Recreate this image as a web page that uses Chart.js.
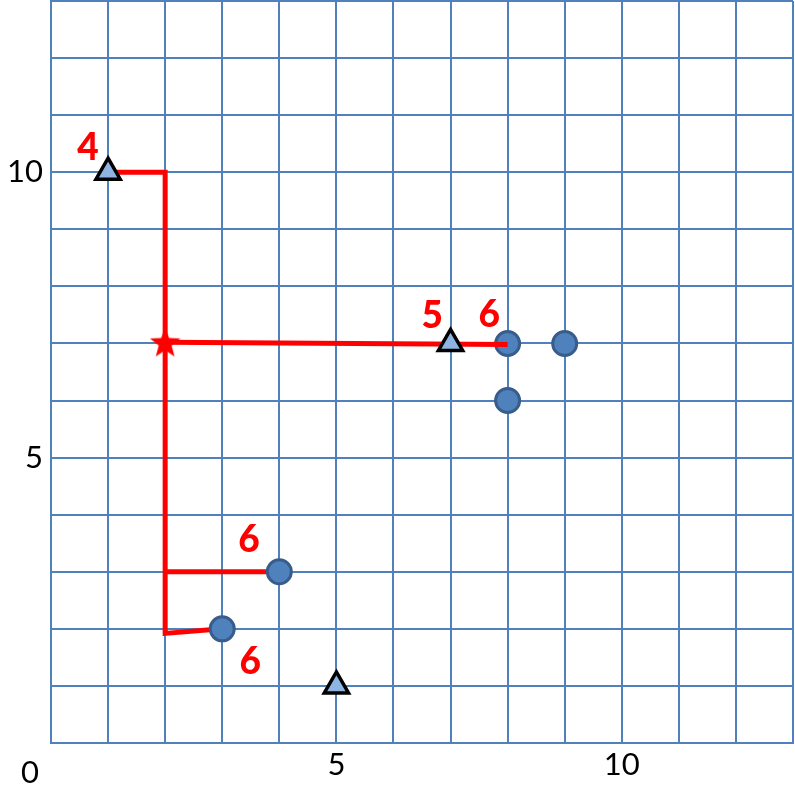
<!DOCTYPE html>
<html>
<head>
<meta charset="utf-8">
<script src="https://cdn.jsdelivr.net/npm/chart.js@4"></script>
<style>
  html, body { margin: 0; padding: 0; background: #fff; }
  #wrap { width: 795px; height: 789px; }
</style>
</head>
<body>
<div id="wrap"><canvas id="myChart"></canvas></div>
<script>
// axis range and tick labels
const xMax = 13;
const yMax = 13;
const xTickLabels = [5, 10];
const yTickLabels = [5, 10];
const originLabel = '0';

// markers
const triangles = [{x: 1, y: 10}, {x: 7, y: 7}, {x: 5, y: 1}];
const circles = [{x: 8, y: 7}, {x: 9, y: 7}, {x: 8, y: 6}, {x: 4, y: 3}, {x: 3, y: 2}];
const stars = [{x: 2, y: 7}];

// red paths
const path1 = [{x: 1, y: 10}, {x: 2, y: 10}, {x: 2, y: 1.92}, {x: 3, y: 2}];
const path2 = [{x: 2, y: 7.02}, {x: 8, y: 6.98}];
const path3 = [{x: 2, y: 3}, {x: 4, y: 3}];

// red number labels
const numLabels = [
  {x: 0.65, y: 10.42, text: '4'},
  {x: 6.68, y: 7.48, text: '5'},
  {x: 7.68, y: 7.5, text: '6'},
  {x: 3.47, y: 3.56, text: '6'},
  {x: 3.49, y: 1.42, text: '6'}
];

// star image for the point style
function makeStar(r) {
  const c = document.createElement('canvas');
  c.width = r * 2 + 2; c.height = r * 2 + 2;
  const g = c.getContext('2d');
  g.translate(r + 1, r + 1);
  g.beginPath();
  for (let i = 0; i < 10; i++) {
    const rad = i % 2 == 0 ? r : r * 0.42;
    const a = -Math.PI / 2 + i * Math.PI / 5;
    g.lineTo(Math.cos(a) * rad, Math.sin(a) * rad);
  }
  g.closePath();
  g.fillStyle = '#ff0000';
  g.fill();
  return c;
}

const textPlugin = {
  id: 'textPlugin',
  afterDraw(chart) {
    const ctx = chart.ctx;
    const xs = chart.scales.x, ys = chart.scales.y;
    ctx.save();
    ctx.fillStyle = '#000';
    ctx.font = '31px Lato, "Open Sans", sans-serif';
    ctx.textBaseline = 'middle';
    ctx.textAlign = 'center';
    xTickLabels.forEach(v => {
      ctx.fillText(String(v), xs.getPixelForValue(v), ys.bottom + 22);
    });
    ctx.fillText(originLabel, xs.left - 21, ys.bottom + 30);
    ctx.textAlign = 'right';
    yTickLabels.forEach(v => {
      ctx.fillText(String(v), xs.left - 8, ys.getPixelForValue(v));
    });
    ctx.fillStyle = '#ff0000';
    ctx.font = '900 37px Lato, "Open Sans", sans-serif';
    ctx.textAlign = 'center';
    numLabels.forEach(l => {
      ctx.fillText(l.text, xs.getPixelForValue(l.x), ys.getPixelForValue(l.y));
    });
    ctx.restore();
  }
};

const lineStyle = {
  type: 'line',
  borderColor: '#ff0000',
  borderWidth: 5,
  pointRadius: 0,
  fill: false,
  tension: 0
};

new Chart(document.getElementById('myChart'), {
  type: 'scatter',
  data: {
    datasets: [
      Object.assign({label: 'p2', data: path2, order: 2}, lineStyle),
      {
        label: 'stars', data: stars, order: 0,
        pointStyle: makeStar(16), pointRadius: 16
      },
      {
        label: 'triangles', data: triangles, order: 1,
        pointStyle: 'triangle', pointRadius: 14,
        backgroundColor: '#8db4e2', borderColor: '#000', borderWidth: 3.5
      },
      {
        label: 'circles', data: circles, order: 3,
        pointStyle: 'circle', pointRadius: 12,
        backgroundColor: '#4f81bd', borderColor: '#385d8a', borderWidth: 3
      },
      Object.assign({label: 'p1', data: path1, order: 4}, lineStyle),
      Object.assign({label: 'p3', data: path3, order: 4}, lineStyle)
    ]
  },
  options: {
    responsive: true,
    maintainAspectRatio: false,
    animation: false,
    layout: { autoPadding: false, padding: { left: 51, top: 1, right: 2, bottom: 46 } },
    plugins: {
      legend: { display: false },
      tooltip: { enabled: false }
    },
    scales: {
      x: {
        type: 'linear', min: 0, max: xMax,
        ticks: { display: false, stepSize: 1 },
        grid: { color: '#4f81bd', lineWidth: 2, drawTicks: false },
        border: { color: '#4f81bd', width: 2 }
      },
      y: {
        type: 'linear', min: 0, max: yMax,
        ticks: { display: false, stepSize: 1 },
        grid: { color: '#4f81bd', lineWidth: 2, drawTicks: false },
        border: { color: '#4f81bd', width: 2 }
      }
    }
  },
  plugins: [textPlugin]
});
</script>
</body>
</html>
